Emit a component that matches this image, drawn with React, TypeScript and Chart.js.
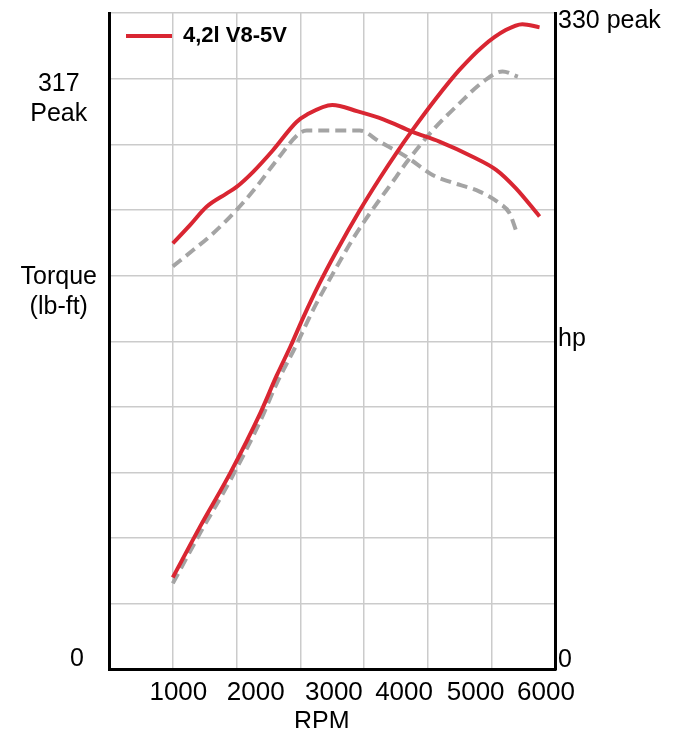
import { useEffect, useRef } from "react";
import { Chart, registerables } from "chart.js";

Chart.register(...registerables);

// ---- data ----
// 4,2l V8-5V torque (lb-ft)
const redTorqueRpm = [1000, 1270, 1530, 1840, 2000, 2260, 2570, 2940, 3100, 3500, 3900, 4300, 4760, 5180, 5700, 6070, 6380, 6750];
const redTorque = [236.9, 247.1, 257.3, 264.6, 268.3, 276.7, 288.7, 304.4, 308.4, 313.9, 310.3, 305.9, 298.9, 293.5, 285.1, 277.8, 267.5, 251.9];
// 4,2l V8-5V power (hp)
const redHpRpm = [1000, 1430, 1900, 2370, 2630, 2850, 3050, 3300, 3560, 3930, 4250, 4500, 4760, 5130, 5490, 5860, 6220, 6480, 6750];
const redHp = [46.8, 72.8, 99.9, 130.3, 149.6, 164.7, 179.4, 196.4, 212.4, 233.5, 250.2, 262.5, 274.5, 290.6, 304.9, 317.0, 325.3, 328.3, 326.7];
// comparison engine torque (lb-ft), dashed grey
const greyTorqueRpm = [1000, 1320, 1630, 2000, 2310, 2630, 2990, 3100, 3930, 4240, 4660, 5080, 5340, 5810, 6120, 6280, 6380];
const greyTorque = [224.1, 233.2, 242.4, 255.5, 268.3, 283.2, 298.2, 299.7, 299.7, 293.5, 285.1, 274.8, 271.2, 265.7, 259.2, 253.7, 244.2];
// comparison engine power (hp), dashed grey
const greyHpRpm = [1000, 1430, 1900, 2370, 2630, 2940, 3200, 3510, 3830, 4090, 4500, 4660, 5080, 5490, 5860, 6170, 6410];
const greyHp = [43.8, 69.5, 96.2, 126.3, 145.6, 165.3, 183.0, 201.4, 219.4, 232.1, 250.5, 257.8, 274.5, 287.9, 298.9, 304.3, 301.6];

// axis text
const rpmLabels = ["1000", "2000", "3000", "4000", "5000", "6000"];
const rpmLabelAt = [1087, 2300, 3526, 4626, 5748, 6851];
const torqueLabels: string[][] = [["Torque", "(lb-ft)"], ["317", "Peak"]];
const torqueLabelAt = [210, 317];
const hpLabels = ["0", "hp", "330 peak"];
const hpLabelAt = [5, 168, 330];
const seriesLabel = "4,2l V8-5V";

const RED = "#d92632";
const GREY = "#a4a4a4";
const GRID = "#cbcbcb";
const FONT = "'Liberation Sans', Arial, Helvetica, sans-serif";

const zip = (xs: number[], ys: number[]) => xs.map((x, i) => ({ x, y: ys[i] }));

export default function App() {
  const ref = useRef<HTMLCanvasElement>(null);

  useEffect(() => {
    if (!ref.current) return;
    const noPad = (s: any) => {
      s.paddingTop = 0;
      s.paddingBottom = 0;
      s.paddingLeft = 0;
      s.paddingRight = 0;
    };
    const lineBase = {
      pointRadius: 0,
      pointHoverRadius: 0,
      fill: false,
      cubicInterpolationMode: "monotone" as const,
      xAxisID: "x",
    };
    const chart = new Chart(ref.current, {
      type: "line",
      data: {
        datasets: [
          { ...lineBase, label: seriesLabel, data: zip(redTorqueRpm, redTorque), yAxisID: "yT", borderColor: RED, backgroundColor: RED, borderWidth: 4 },
          { ...lineBase, label: seriesLabel + " hp", data: zip(redHpRpm, redHp), yAxisID: "yH", borderColor: RED, backgroundColor: RED, borderWidth: 4 },
          { ...lineBase, label: "torque (grey)", data: zip(greyTorqueRpm, greyTorque), yAxisID: "yT", borderColor: GREY, backgroundColor: GREY, borderWidth: 4, borderDash: [11, 6] },
          { ...lineBase, label: "hp (grey)", data: zip(greyHpRpm, greyHp), yAxisID: "yH", borderColor: GREY, backgroundColor: GREY, borderWidth: 4, borderDash: [11, 6] },
        ],
      },
      options: {
        animation: false,
        responsive: false,
        events: [],
        layout: { padding: { top: 5, left: 0, right: 0, bottom: 0 } },
        plugins: {
          tooltip: { enabled: false },
          legend: {
            display: true,
            position: "chartArea" as any,
            align: "start",
            labels: {
              boxWidth: 46,
              boxHeight: 4,
              padding: 17,
              color: "#111",
              font: { family: FONT, size: 22, weight: "bold" },
              generateLabels: (c: any) => [
                { text: c.data.datasets[0].label, fillStyle: RED, strokeStyle: RED, lineWidth: 0, hidden: false, datasetIndex: 0 },
              ],
            },
          },
        },
        scales: {
          x: {
            type: "linear",
            position: "bottom",
            min: 0,
            max: 7000,
            weight: 0,
            ticks: { display: false, stepSize: 1000 },
            grid: { color: GRID, lineWidth: 1.5, drawTicks: false },
            border: { display: true, color: "#000", width: 3 },
            afterFit: (s: any) => { s.height = 0; noPad(s); },
          },
          xl: {
            type: "linear",
            position: "bottom",
            min: 0,
            max: 7000,
            weight: 10,
            grid: { display: false, drawTicks: false },
            border: { display: false },
            afterBuildTicks: (s: any) => { s.ticks = rpmLabelAt.map((v) => ({ value: v })); },
            ticks: {
              autoSkip: false,
              maxRotation: 0,
              padding: 8,
              color: "#000",
              font: { family: FONT, size: 26 },
              callback: (_v: any, i: number) => rpmLabels[i],
            },
            title: {
              display: true,
              text: "RPM   ",
              color: "#000",
              font: { family: FONT, size: 25, lineHeight: 1 },
              padding: { top: 0, bottom: 1 },
            },
            afterFit: (s: any) => { s.height = 66.5; noPad(s); },
          },
          y: {
            type: "linear",
            position: "left",
            min: 0,
            max: 10,
            weight: 0,
            ticks: {
              display: true,
              stepSize: 1,
              autoSkip: false,
              mirror: true,
              padding: -39,
              crossAlign: "near",
              labelOffset: -10.5,
              color: "#000",
              font: { family: FONT, size: 25 },
              callback: (v: any) => (v === 0 ? "0" : ""),
            },
            grid: { color: GRID, lineWidth: 1.5, drawTicks: false },
            border: { display: true, color: "#000", width: 3 },
            afterFit: (s: any) => { s.width = 0; noPad(s); },
          },
          yT: {
            type: "linear",
            position: "left",
            min: 0,
            max: 365,
            weight: 10,
            grid: { display: false, drawTicks: false },
            border: { display: false },
            afterBuildTicks: (s: any) => { s.ticks = torqueLabelAt.map((v) => ({ value: v })); },
            ticks: {
              autoSkip: false,
              padding: 12,
              crossAlign: "center",
              color: "#000",
              font: { family: FONT, size: 25 },
              callback: (_v: any, i: number) => torqueLabels[i],
            },
            afterFit: (s: any) => { s.width = 101; noPad(s); },
          },
          yH: {
            type: "linear",
            position: "right",
            min: 0,
            max: 334,
            grid: { display: false, drawTicks: false },
            border: { display: true, color: "#000", width: 3 },
            afterBuildTicks: (s: any) => { s.ticks = hpLabelAt.map((v) => ({ value: v })); },
            ticks: {
              autoSkip: false,
              padding: 2.5,
              crossAlign: "near",
              color: "#000",
              font: { family: FONT, size: 25 },
              callback: (_v: any, i: number) => hpLabels[i],
            },
            afterFit: (s: any) => { s.width = 114.5; noPad(s); },
          },
        },
      } as any,
    });
    return () => chart.destroy();
  }, []);

  return (
    <div style={{ marginBottom: -8 }}>
      <canvas ref={ref} width={662} height={728} style={{ display: "block" }} />
    </div>
  );
}
